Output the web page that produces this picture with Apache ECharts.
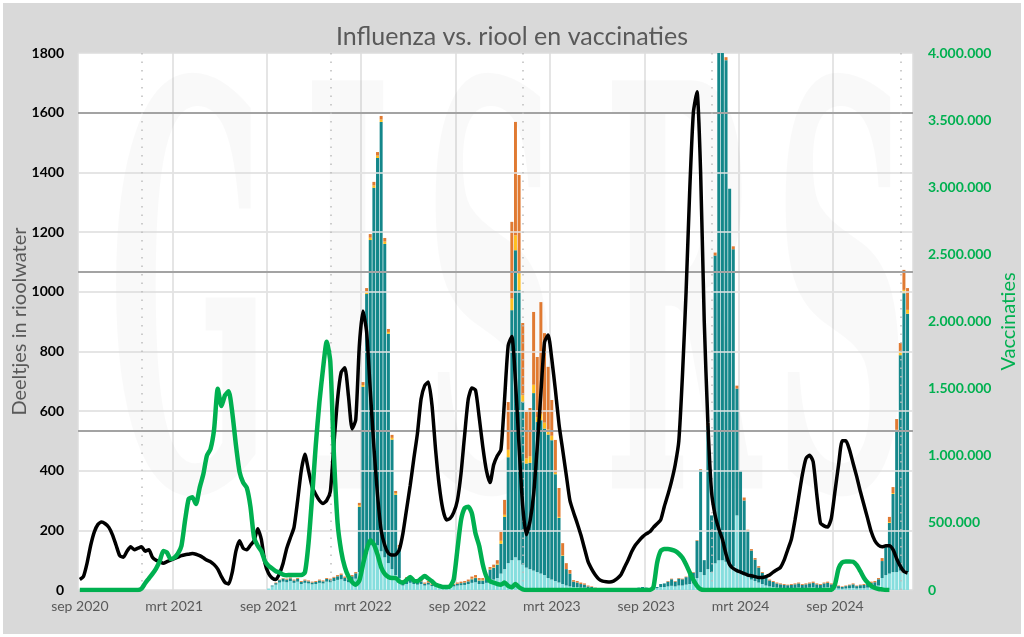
<!DOCTYPE html>
<html>
<head>
    <meta charset="utf-8">
    <title>Influenza vs. riool en vaccinaties</title>
    <script src="https://cdn.jsdelivr.net/npm/echarts@6/dist/echarts.min.js"></script>
    <style>
        body { margin: 0; background: #fff; }
        #wrap { width: 1024px; height: 637px; padding: 3px; box-sizing: border-box; background: #fff; }
        #main { width: 1018px; height: 631px; }
    </style>
</head>
<body>
<div id="wrap"><div id="main"></div></div>
<script type="text/javascript">
    // x-as: weken vanaf eind augustus 2020
    var weekCount = 230;
    var tickLabels = ['sep 2020', 'mrt 2021', 'sep 2021', 'mrt 2022', 'sep 2022', 'mrt 2023', 'sep 2023', 'mrt 2024', 'sep 2024'];
    var yearStartWeeks = [17, 69, 122, 174, 226];
    var gridValues = [200, 400, 600, 800, 1000, 1200, 1400];
    var thresholds = [533.3, 1066.7, 1600];
    var watermark = ['G', 'I', 'S', 'R', 'S'];

    // deeltjes in rioolwater (zwarte lijn)
    var riool = [
        35, 45, 90, 150, 195, 220, 228, 222, 210, 185,
        150, 115, 110, 130, 145, 135, 140, 145, 130, 135,
        110, 100, 95, 90, 95, 100, 105, 110, 115, 118,
        120, 122, 120, 115, 108, 100, 95, 85, 70, 45,
        25, 20, 60, 130, 165, 140, 135, 150, 165, 205,
        170, 90, 55, 40, 35, 55, 90, 140, 175, 210,
        300, 400, 455, 400, 345, 320, 300, 290, 300, 330,
        490, 640, 730, 745, 650, 540, 570, 820, 935, 865,
        670, 480, 320, 200, 150, 123, 117, 118, 135, 190,
        270, 350, 440, 525, 640, 685, 697, 620, 470, 350,
        270, 235, 240, 260, 300, 390, 520, 640, 677, 670,
        580, 480, 400, 360, 420, 450, 470, 640, 820, 850,
        700, 480, 280, 185, 230, 320, 480, 660, 830, 855,
        775, 670, 555, 470, 385, 300, 260, 224, 185, 140,
        95, 70, 50, 36, 30, 28, 27, 30, 38, 50,
        75, 100, 128, 150, 165, 178, 188, 195, 210, 222,
        235, 280, 320, 365, 420, 500, 720, 1000, 1340, 1600,
        1670, 1400, 900, 560, 330, 250, 205, 170, 120, 85,
        72, 65, 60, 55, 50, 48, 45, 42, 42, 45,
        50, 60, 68, 76, 100, 135, 170, 235, 310, 385,
        440, 452, 430, 320, 225, 215, 211, 240, 330, 420,
        500, 500, 470, 425, 380, 330, 285, 240, 195, 165,
        150, 145, 148, 148, 135, 105, 80, 62, 57, null
    ];

    // vaccinaties per week (groene lijn, rechter as)
    var vaccinaties = [
        0, 0, 0, 0, 0, 0, 0, 0, 0, 0,
        0, 0, 0, 0, 0, 0, 0, 10000, 50000, 85000,
        120000, 160000, 215000, 290000, 280000, 230000, 240000, 270000, 330000, 520000,
        680000, 690000, 640000, 760000, 860000, 1000000, 1050000, 1200000, 1500000, 1370000,
        1450000, 1480000, 1320000, 1080000, 880000, 800000, 760000, 620000, 390000, 330000,
        290000, 215000, 180000, 160000, 140000, 130000, 115000, 110000, 112000, 112000,
        112000, 112000, 130000, 350000, 700000, 1080000, 1400000, 1650000, 1850000, 1700000,
        1000000, 500000, 290000, 170000, 100000, 60000, 40000, 70000, 190000, 300000,
        370000, 340000, 265000, 170000, 120000, 97000, 90000, 90000, 65000, 55000,
        75000, 97000, 70000, 65000, 85000, 104000, 85000, 65000, 40000, 30000,
        22000, 22000, 28000, 80000, 300000, 520000, 610000, 620000, 570000, 420000,
        330000, 190000, 100000, 65000, 55000, 45000, 40000, 55000, 30000, 20000,
        45000, 20000, 5000, 0, 0, 0, 0, 0, 0, 0,
        0, 0, 0, 0, 0, 0, 0, 0, 0, 0,
        0, 0, 0, 0, 0, 0, 0, 0, 0, 0,
        0, 0, 0, 0, 0, 0, 0, 0, 20000, 200000,
        290000, 305000, 305000, 300000, 290000, 270000, 240000, 190000, 130000, 75000,
        30000, 5000, 0, 0, 0, 0, 0, 0, 0, 0,
        0, 0, 0, 0, 0, 0, 0, 0, 0, 0,
        0, 0, 0, 0, 0, 0, 0, 0, 0, 0,
        0, 0, 0, 0, 0, 0, 0, 0, 40000, 160000,
        205000, 212000, 212000, 210000, 185000, 140000, 90000, 55000, 30000, 15000,
        8000, 4000, 0, 0, null, null, null, null, null, null
    ];

    // influenza-staven, gestapeld van onder naar boven
    var fluLicht = [
        0, 0, 0, 0, 0, 0, 0, 0, 0, 0,
        0, 0, 0, 0, 0, 0, 0, 0, 0, 0,
        0, 0, 0, 0, 0, 0, 0, 0, 0, 0,
        0, 0, 0, 0, 0, 0, 0, 0, 0, 0,
        0, 0, 0, 0, 0, 0, 0, 0, 0, 0,
        0, 0, 5, 12, 18, 25, 28, 26, 30, 24,
        28, 20, 24, 22, 19, 20, 24, 22, 28, 26,
        30, 34, 36, 30, 26, 32, 38, 60, 90, 120,
        150, 160, 150, 130, 110, 90, 70, 50, 40, 15,
        20, 24, 20, 18, 20, 15, 18, 13, 12, 11,
        9, 9, 11, 12, 15, 16, 17, 20, 24, 26,
        20, 20, 24, 30, 35, 40, 55, 70, 90, 100,
        110, 100, 85, 75, 70, 65, 60, 55, 50, 40,
        35, 30, 25, 20, 15, 12, 10, 10, 8, 8,
        6, 5, 4, 3, 2, 2, 2, 2, 2, 2,
        2, 2, 3, 3, 4, 6, 5, 4, 5, 6,
        10, 10, 12, 14, 12, 15, 15, 18, 20, 22,
        40, 60, 50, 70, 60, 90, 100, 100, 95, 85,
        80, 250, 60, 50, 45, 35, 30, 25, 20, 15,
        12, 10, 8, 7, 6, 6, 6, 7, 8, 6,
        7, 8, 9, 7, 6, 8, 9, 7, 6, 5,
        4, 5, 6, 7, 5, 6, 6, 8, 9, 10,
        15, 40, 50, 55, 60, 60, 65, 65, 60, 0
    ];
    var fluTeal = [
        0, 0, 0, 0, 0, 0, 0, 0, 0, 0,
        0, 0, 0, 0, 0, 0, 0, 0, 0, 0,
        0, 0, 0, 0, 0, 0, 0, 0, 0, 0,
        0, 0, 0, 0, 0, 0, 0, 0, 0, 0,
        0, 0, 0, 0, 0, 0, 0, 0, 0, 0,
        0, 0, 0, 3, 5, 8, 10, 9, 9, 8,
        9, 7, 8, 7, 6, 7, 8, 7, 9, 9,
        11, 12, 15, 11, 10, 14, 18, 219, 591, 872,
        1023, 1188, 1298, 1439, 1050, 769, 434, 269, 101, 15,
        20, 10, 9, 7, 9, 6, 7, 5, 5, 4,
        3, 3, 4, 5, 6, 7, 8, 9, 12, 14,
        12, 12, 16, 39, 40, 45, 100, 175, 355, 838,
        1029, 905, 546, 349, 356, 595, 503, 514, 491, 481,
        467, 358, 217, 95, 55, 43, 18, 15, 12, 10,
        6, 5, 3, 2, 2, 1, 1, 1, 1, 1,
        2, 2, 2, 3, 4, 4, 3, 2, 3, 4,
        10, 12, 16, 22, 16, 23, 21, 25, 33, 36,
        125, 343, 50, 480, 190, 1031, 1750, 1750, 1681, 1260,
        1062, 425, 339, 250, 152, 97, 72, 50, 37, 27,
        20, 17, 14, 12, 11, 10, 11, 12, 14, 11,
        12, 14, 15, 12, 11, 14, 15, 12, 10, 8,
        6, 8, 10, 12, 8, 10, 11, 13, 15, 16,
        21, 57, 95, 170, 262, 472, 722, 930, 866, 0
    ];
    var fluGeel = [
        0, 0, 0, 0, 0, 0, 0, 0, 0, 0,
        0, 0, 0, 0, 0, 0, 0, 0, 0, 0,
        0, 0, 0, 0, 0, 0, 0, 0, 0, 0,
        0, 0, 0, 0, 0, 0, 0, 0, 0, 0,
        0, 0, 0, 0, 0, 0, 0, 0, 0, 0,
        0, 0, 0, 0, 0, 0, 0, 0, 0, 0,
        0, 0, 0, 0, 0, 0, 0, 0, 0, 0,
        0, 0, 0, 0, 0, 0, 0, 5, 6, 8,
        8, 8, 8, 8, 8, 6, 6, 5, 4, 0,
        0, 0, 0, 0, 0, 0, 0, 0, 0, 0,
        0, 0, 0, 0, 0, 0, 0, 0, 2, 2,
        2, 2, 2, 2, 2, 3, 10, 7, 25, 39,
        50, 56, 22, 17, 22, 28, 17, 22, 20, 17,
        15, 5, 3, 2, 0, 0, 0, 0, 0, 0,
        0, 0, 0, 0, 0, 0, 0, 0, 0, 0,
        0, 0, 0, 0, 0, 0, 0, 0, 0, 0,
        0, 0, 0, 0, 0, 0, 0, 0, 0, 0,
        0, 0, 0, 0, 0, 0, 0, 0, 0, 0,
        0, 0, 0, 0, 0, 0, 0, 0, 0, 0,
        0, 0, 0, 0, 0, 0, 0, 0, 0, 0,
        0, 0, 0, 0, 0, 0, 0, 0, 0, 0,
        0, 0, 0, 0, 0, 0, 0, 0, 0, 0,
        0, 0, 0, 3, 3, 5, 11, 11, 13, 0
    ];
    var fluOranje = [
        0, 0, 0, 0, 0, 0, 0, 0, 0, 0,
        0, 0, 0, 0, 0, 0, 0, 0, 0, 0,
        0, 0, 0, 0, 0, 0, 0, 0, 0, 0,
        0, 0, 0, 0, 0, 0, 0, 0, 0, 0,
        0, 0, 0, 0, 0, 0, 0, 0, 0, 0,
        0, 0, 0, 0, 2, 2, 2, 3, 3, 3,
        3, 3, 3, 3, 3, 3, 3, 3, 3, 3,
        3, 4, 4, 4, 4, 4, 4, 8, 10, 12,
        12, 12, 12, 12, 12, 10, 10, 8, 6, 3,
        3, 6, 6, 5, 6, 4, 5, 4, 3, 3,
        3, 3, 3, 3, 4, 5, 5, 6, 7, 8,
        6, 6, 8, 6, 8, 12, 30, 50, 160, 257,
        380, 330, 242, 156, 162, 244, 201, 374, 300, 210,
        120, 110, 97, 40, 20, 12, 5, 5, 5, 4,
        3, 2, 1, 0, 0, 0, 0, 0, 0, 0,
        0, 0, 0, 0, 0, 0, 0, 0, 0, 0,
        0, 0, 2, 2, 2, 2, 2, 2, 2, 2,
        2, 2, 0, 10, 0, 10, 0, 0, 10, 0,
        10, 10, 0, 10, 5, 5, 5, 5, 3, 3,
        3, 3, 3, 3, 3, 2, 3, 3, 3, 3,
        3, 3, 4, 3, 3, 3, 4, 3, 2, 2,
        2, 2, 2, 3, 2, 2, 3, 4, 4, 4,
        4, 10, 5, 17, 20, 36, 30, 67, 73, 0
    ];

    var weeks = [];
    var start = new Date(Date.UTC(2020, 7, 31));
    for (var i = 0; i < weekCount; i++) {
        weeks.push(new Date(start.getTime() + i * 7 * 86400000).toISOString().slice(0, 10));
    }

    function isTick(index) {
        return index % 26 === 0;
    }

    var refLines = [];
    gridValues.forEach(function (v) {
        refLines.push({yAxis: v, lineStyle: {color: '#e4e4e4', width: 1.5, type: 'solid'}});
    });
    thresholds.forEach(function (v) {
        refLines.push({yAxis: v, lineStyle: {color: '#a3a3a3', width: 2, type: 'solid'}});
    });
    yearStartWeeks.forEach(function (w) {
        refLines.push({xAxis: weeks[w], lineStyle: {color: '#bdbdbd', width: 1.5, type: [1.5, 7]}});
    });

    // vage watermerkletters achter de grafiek
    var markX = [105, 300, 420, 600, 770];
    var markGraphics = watermark.map(function (ch, k) {
        return {
            type: 'text',
            x: markX[k],
            y: 340,
            scaleX: 0.34,
            z: 1,
            silent: true,
            style: {
                text: ch,
                fontSize: 560,
                fontWeight: 'bold',
                fontFamily: '"DejaVu Serif"',
                fill: 'rgba(0,0,0,0.022)',
                verticalAlign: 'middle'
            }
        };
    });

    var fontName = 'Lato, "Open Sans", sans-serif';
    var chart = echarts.init(document.getElementById('main'));

    var option = {
        backgroundColor: '#d9d9d9',
        animation: false,
        textStyle: {fontFamily: fontName},
        title: {
            text: 'Influenza vs. riool en vaccinaties',
            left: 'center',
            top: 16,
            textStyle: {fontFamily: fontName, fontSize: 25, fontWeight: 'normal', color: '#595959'}
        },
        graphic: markGraphics,
        grid: {
            left: 75, right: 108, top: 50, bottom: 44,
            outerBoundsMode: 'none',
            containLabel: false,
            show: true, backgroundColor: '#ffffff', borderWidth: 0
        },
        xAxis: {
            type: 'category',
            data: weeks,
            boundaryGap: true,
            axisLine: {show: false},
            axisTick: {show: false},
            axisLabel: {
                interval: function (index) { return isTick(index); },
                formatter: function (value, index) { return tickLabels[index / 26]; },
                color: '#595959',
                fontSize: 14,
                margin: 9
            },
            splitLine: {
                show: true,
                interval: function (index) { return isTick(index); },
                lineStyle: {color: '#dcdcdc', width: 1.5}
            }
        },
        yAxis: [{
            type: 'value',
            min: 0,
            max: 1800,
            interval: 200,
            name: 'Deeltjes in rioolwater',
            nameLocation: 'middle',
            nameGap: 48,
            nameMoveOverlap: false,
            nameTextStyle: {color: '#595959', fontSize: 20, fontFamily: fontName},
            axisLine: {show: false},
            axisTick: {show: false},
            axisLabel: {
                color: '#000', fontWeight: 'bold', fontSize: 14, margin: 14,
                formatter: function (v) { return String(v); }
            },
            splitLine: {lineStyle: {color: '#dcdcdc', width: 1.5}}
        }, {
            type: 'value',
            position: 'right',
            min: 0,
            max: 4000000,
            interval: 500000,
            name: 'Vaccinaties',
            nameLocation: 'middle',
            nameGap: 86,
            nameRotate: 90,
            nameMoveOverlap: false,
            nameTextStyle: {color: '#00b050', fontSize: 20, fontFamily: fontName},
            axisLine: {show: false},
            axisTick: {show: false},
            axisLabel: {
                color: '#00b050', fontWeight: 'bold', fontSize: 14, margin: 15,
                formatter: function (v) { return String(v).replace(/\B(?=(\d{3})+(?!\d))/g, '.'); }
            },
            splitLine: {show: false}
        }],
        series: [{
            name: 'licht',
            type: 'bar',
            stack: 'flu',
            barCategoryGap: '18%',
            itemStyle: {color: '#86dede'},
            data: fluLicht
        }, {
            name: 'teal',
            type: 'bar',
            stack: 'flu',
            itemStyle: {color: '#14878a'},
            data: fluTeal
        }, {
            name: 'geel',
            type: 'bar',
            stack: 'flu',
            itemStyle: {color: '#ffbf1f'},
            data: fluGeel
        }, {
            name: 'oranje',
            type: 'bar',
            stack: 'flu',
            itemStyle: {color: '#e07a32'},
            data: fluOranje,
            markLine: {
                silent: true,
                z: 3,
                symbol: ['none', 'none'],
                label: {show: false},
                data: refLines
            }
        }, {
            name: 'riool',
            type: 'line',
            z: 4,
            showSymbol: false,
            smooth: 0.2,
            lineStyle: {color: '#000', width: 3.5},
            itemStyle: {color: '#000'},
            data: riool
        }, {
            name: 'vaccinaties',
            type: 'line',
            yAxisIndex: 1,
            z: 5,
            showSymbol: false,
            smooth: 0.2,
            lineStyle: {color: '#00b050', width: 4.5},
            itemStyle: {color: '#00b050'},
            data: vaccinaties
        }]
    };

    chart.setOption(option);
</script>
</body>
</html>
